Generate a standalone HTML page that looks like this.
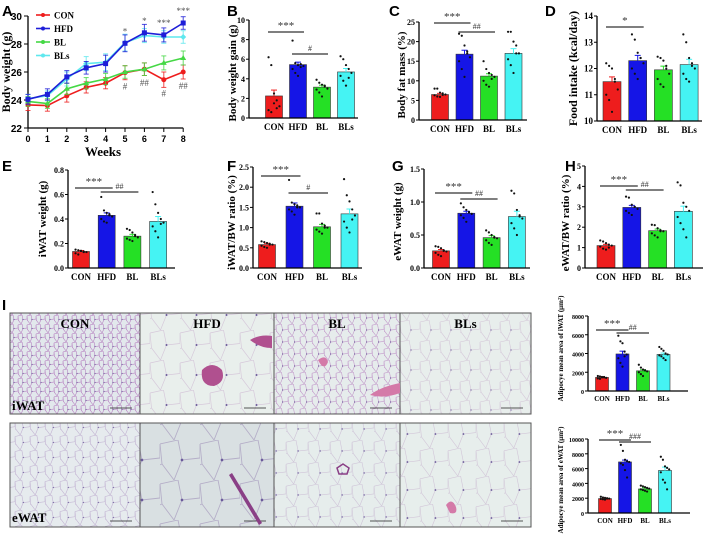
<!DOCTYPE html>
<html><head><meta charset="utf-8"><style>
html,body{margin:0;padding:0;background:#fff;}
svg{display:block;font-family:"Liberation Serif",serif;}
.lt{font-family:"Liberation Sans",sans-serif;font-weight:bold;font-size:15px;}
</style></head><body>
<svg id="fig" width="708" height="536" viewBox="0 0 708 536" xmlns="http://www.w3.org/2000/svg">
<defs id="defs"></defs>
</svg>
<script>
// ---------- Panel A data ----------
const weeks = [0,1,2,3,4,5,6,7,8];
const aTicks = [22,24,26,28,30];
const conW = [23.65,23.6,24.3,24.9,25.2,25.95,26.2,25.45,26.0];
const hfdW = [24.05,24.4,25.65,26.3,26.6,28.05,28.8,28.65,29.5];
const blW  = [23.9,23.75,24.8,25.2,25.5,26.0,26.2,26.65,27.0];
const blsW = [24.1,24.3,25.5,26.6,26.7,28.1,28.6,28.5,28.5];
const conE = [0.4,0.4,0.45,0.4,0.4,0.5,0.45,0.55,0.5];
const hfdE = [0.35,0.4,0.45,0.45,0.6,0.6,0.6,0.5,0.45];
const blE  = [0.35,0.35,0.4,0.4,0.4,0.45,0.45,0.5,0.5];
const blsE = [0.3,0.35,0.5,0.5,0.6,0.6,0.5,0.45,0.45];
// ---------- Bar panel data ----------
const groups = ["CON","HFD","BL","BLs"];
const bMean=[2.25,5.45,3.15,4.7], bErr=[0.6,0.25,0.2,0.35], bTicks=[0,2,4,6,8,10];
const bDots=[[6.2,5.4,2.5,1.8,1.2,0.8,0.6,1.5,1.0],[7.9,5.6,5.4,5.5,5.3,5.0,4.6,4.3,5.2],[3.9,3.6,3.4,3.2,3.0,2.9,2.6,2.2,3.3],[6.3,6.0,5.4,5.0,4.6,4.3,3.8,3.3,4.1]];
const cMean=[6.5,16.8,11.2,17.0], cErr=[0.3,1.0,0.6,1.2], cTicks=[0,5,10,15,20,25];
const cDots=[[8,8,7,6.8,6.5,6.3,6,5.9,6.4],[22,21.5,19,17.5,16,15,13,11,17],[15,13,12,11.5,11,10,9,8.5,10.5],[22.5,22.5,20,19,17,15.5,14,12,17]];
const dMean=[11.5,12.3,11.95,12.15], dErr=[0.18,0.2,0.14,0.2], dTicks=[10,11,12,13,14];
const dDots=[[12.2,12.1,12.0,11.6,11.2,11.0,10.8,10.35,11.5],[13.3,13.1,12.6,12.4,12.2,12.0,11.8,11.6,12.4],[12.45,12.4,12.3,12.0,11.8,11.6,11.4,11.3,12.1],[13.3,13.0,12.4,12.2,12.0,11.8,11.6,11.5,12.1]];
const eMean=[0.135,0.43,0.26,0.38], eErr=[0.008,0.02,0.015,0.04], eTicks=[0,0.2,0.4,0.6,0.8];
const eDots=[[0.15,0.145,0.14,0.135,0.13,0.12,0.11,0.14,0.13],[0.58,0.47,0.45,0.43,0.42,0.4,0.38,0.37,0.44],[0.32,0.31,0.29,0.27,0.25,0.24,0.23,0.22,0.26],[0.62,0.52,0.45,0.4,0.37,0.34,0.3,0.25,0.36]];
const fMean=[0.58,1.53,1.02,1.34], fErr=[0.03,0.08,0.06,0.12], fTicks=[0,0.5,1.0,1.5,2.0,2.5];
const fDots=[[0.66,0.64,0.62,0.6,0.58,0.55,0.52,0.5,0.58],[2.18,1.62,1.58,1.55,1.5,1.45,1.4,1.32,1.5],[1.35,1.35,1.1,1.05,1.0,0.95,0.9,0.85,1.0],[2.2,1.8,1.65,1.45,1.3,1.15,1.0,0.88,1.2]];
const gMean=[0.26,0.83,0.46,0.78], gErr=[0.02,0.03,0.03,0.08], gTicks=[0,0.5,1.0,1.5];
const gDots=[[0.33,0.32,0.3,0.27,0.25,0.23,0.2,0.18,0.26],[0.98,0.92,0.88,0.85,0.82,0.8,0.76,0.7,0.84],[0.57,0.54,0.5,0.47,0.45,0.42,0.38,0.35,0.46],[1.17,1.13,0.88,0.8,0.75,0.68,0.6,0.5,0.78]];
const hMean=[1.1,2.97,1.83,2.78], hErr=[0.06,0.1,0.08,0.25], hTicks=[0,1,2,3,4,5];
const hDots=[[1.35,1.3,1.22,1.15,1.1,1.05,0.95,0.9,1.0],[3.5,3.45,3.1,3.0,2.9,2.8,2.7,2.6,3.0],[2.12,2.1,1.95,1.85,1.8,1.7,1.6,1.5,1.8],[4.2,4.05,3.2,3.0,2.8,2.5,2.2,1.9,1.5]];
const itMean=[1450,3950,2150,3900], itErr=[80,300,120,150], itTicks=[0,2000,4000,6000,8000];
const itDots=[[1600,1550,1500,1450,1400,1350,1300,1450,1500],[5900,5300,5100,4200,3900,3500,3000,2600,3700],[2800,2500,2300,2200,2100,2000,1800,1600,2200],[4700,4500,4300,4000,3900,3800,3700,3500,3300]];
const ieMean=[1950,6900,3250,5750], ieErr=[80,250,150,450], ieTicks=[0,2000,4000,6000,8000,10000];
const ieDots=[[2200,2100,2050,2000,1950,1900,1850,1800,1950],[9200,8400,7200,7000,6900,6700,6500,5800,4800],[3700,3600,3500,3400,3300,3200,3100,3000,2900],[7600,7200,6300,6100,5900,5500,4500,4100,3200]];

const NS="http://www.w3.org/2000/svg";
const svg=document.getElementById('fig');
const defs=document.getElementById('defs');
const COLORS=["#ee1d1d","#1515e6","#25e025","#45f3f3"];
function el(tag,attrs,parent){const e=document.createElementNS(NS,tag);for(const k in attrs)e.setAttribute(k,attrs[k]);(parent||svg).appendChild(e);return e;}
function txt(x,y,s,attrs,parent){const t=el('text',Object.assign({x:x,y:y},attrs||{}),parent);t.textContent=s;return t;}
function fmt(v,ticks){const dec=ticks.some(t=>!Number.isInteger(t));return dec?v.toFixed(1):String(v);}

// panel letters
[["A",2,16],["B",227,16],["C",389,16],["D",545,16],["E",2,171],["F",227,171],["G",392,171],["H",565,171],["I",2,310]].forEach(p=>{
  const t=txt(p[1],p[2],p[0],{class:'lt'});
  
  
});

// ---------- Panel A ----------
(function(){
  const g=el('g',{});
  
  
  const x0=28,xs=19.4,yB=128,yT=16,vmin=22,vmax=30;
  const X=w=>x0+w*xs, Y=v=>yB-(v-vmin)/(vmax-vmin)*(yB-yT);
  el('line',{x1:x0,y1:yT,x2:x0,y2:yB,stroke:'#000','stroke-width':1.3},g);
  el('line',{x1:x0,y1:yB,x2:X(8),y2:yB,stroke:'#000','stroke-width':1.3},g);
  aTicks.forEach(t=>{el('line',{x1:x0-4,y1:Y(t),x2:x0,y2:Y(t),stroke:'#000'},g);
    const l=txt(x0-6,Y(t)+4,String(t),{'text-anchor':'end','font-size':10,'font-weight':'bold','font-family':'Liberation Sans, sans-serif'},g);
    });
  weeks.forEach(w=>{el('line',{x1:X(w),y1:yB,x2:X(w),y2:yB+4,stroke:'#000'},g);
    const l=txt(X(w),yB+14,String(w),{'text-anchor':'middle','font-size':9,'font-weight':'bold','font-family':'Liberation Sans, sans-serif'},g);
    });
  const xt=txt(103,156,"Weeks",{'text-anchor':'middle','font-size':13,'font-weight':'bold'},g);
  
  const yt=txt(0,0,"Body weight (g)",{'text-anchor':'middle','font-size':12,'font-weight':'bold',transform:'translate(10,72) rotate(-90)'},g);
  
  const series=[[conW,conE,COLORS[0],'con','circle'],[blsW,blsE,'#5ee8ee','bls','diamond'],[blW,blE,'#45d845','bl','tri'],[hfdW,hfdE,'#1e1ed8','hfd','square']];
  series.forEach(s=>{
    const sg=el('g',{},g);
    
    s[0].forEach((v,i)=>{
      el('line',{x1:X(i),y1:Y(v+s[1][i]),x2:X(i),y2:Y(v-s[1][i]),stroke:s[2],'stroke-width':1,opacity:0.8},sg);
      el('line',{x1:X(i)-2.5,y1:Y(v+s[1][i]),x2:X(i)+2.5,y2:Y(v+s[1][i]),stroke:s[2],opacity:0.8},sg);
      el('line',{x1:X(i)-2.5,y1:Y(v-s[1][i]),x2:X(i)+2.5,y2:Y(v-s[1][i]),stroke:s[2],opacity:0.8},sg);
    });
    el('polyline',{points:s[0].map((v,i)=>X(i)+','+Y(v)).join(' '),fill:'none',stroke:s[2],'stroke-width':1.6},sg);
    s[0].forEach((v,i)=>{
      let m;
      if(s[4]==='square')m=el('rect',{x:X(i)-2.5,y:Y(v)-2.5,width:5,height:5,fill:s[2]},sg);
      else if(s[4]==='tri')m=el('polygon',{points:`${X(i)},${Y(v)-3} ${X(i)-3},${Y(v)+2} ${X(i)+3},${Y(v)+2}`,fill:s[2]},sg);
      else if(s[4]==='diamond')m=el('polygon',{points:`${X(i)},${Y(v)-3} ${X(i)+3},${Y(v)} ${X(i)},${Y(v)+3} ${X(i)-3},${Y(v)}`,fill:s[2]},sg);
      else m=el('circle',{cx:X(i),cy:Y(v),r:2.5,fill:s[2]},sg);
      
    });
  });
  [["CON",COLORS[0]],["HFD","#1e1ed8"],["BL","#45d845"],["BLs","#5ee8ee"]].forEach((l,i)=>{
    const lg=el('g',{},g);
    const y=15+i*13.5;
    el('line',{x1:36,y1:y,x2:50,y2:y,stroke:l[1],'stroke-width':1.6},lg);
    el('circle',{cx:43,cy:y,r:2,fill:l[1]},lg);
    txt(54,y+3.5,l[0],{'font-size':9,'font-weight':'bold'},lg);
  });
  [["*",5,hfdW,-1],["*",6,hfdW,-1],["***",7,hfdW,-1],["***",8,hfdW,-1],["#",5,conW,1],["##",6,conW,1],["#",7,conW,1],["##",8,conW,1]].forEach(s=>{
    const v=s[2][s[1]];const y=s[3]<0?Y(v)-9:Y(v)+17;
    const t=txt(X(s[1]),y,s[0],{'text-anchor':'middle','font-size':9,fill:'#555'},g);
    
  });
})();

// ---------- bar panels ----------
function barPanel(name,title,means,errs,dots,ticks,cfg,sigs){
  const g=el('g',{});
  
  
  const vmin=ticks[0],vmax=ticks[ticks.length-1];
  const Y=v=>cfg.yB-(v-vmin)/(vmax-vmin)*(cfg.yB-cfg.yT);
  const X=i=>cfg.c0+i*cfg.step;
  means.forEach((m,i)=>{
    const b=el('rect',{x:X(i)-cfg.bw/2,y:Y(m),width:cfg.bw,height:cfg.yB-Y(m),fill:COLORS[i],stroke:'#333','stroke-width':0.6},g);
    
    el('line',{x1:X(i),y1:Y(m),x2:X(i),y2:Y(m+errs[i]),stroke:COLORS[i],'stroke-width':1},g);
    el('line',{x1:X(i)-3,y1:Y(m+errs[i]),x2:X(i)+3,y2:Y(m+errs[i]),stroke:COLORS[i],'stroke-width':1},g);
    dots[i].forEach((d,j)=>{
      const off=((j%5)-2)*cfg.bw*0.16;
      const c=el('circle',{cx:X(i)+off,cy:Y(d),r:1.1,fill:'#111'},g);
      
      
    });
  });
  el('line',{x1:cfg.x0,y1:cfg.yT,x2:cfg.x0,y2:cfg.yB,stroke:'#000','stroke-width':1.3},g);
  el('line',{x1:cfg.x0,y1:cfg.yB,x2:cfg.x1,y2:cfg.yB,stroke:'#000','stroke-width':1.3},g);
  ticks.forEach(t=>{el('line',{x1:cfg.x0-3,y1:Y(t),x2:cfg.x0,y2:Y(t),stroke:'#000'},g);
    const l=txt(cfg.x0-4,Y(t)+3,fmt(t,ticks),{'text-anchor':'end','font-size':cfg.tf||8,'font-weight':'bold'},g);
    });
  groups.forEach((gname,i)=>{
    const l=txt(X(i),cfg.yB+cfg.lo,gname,{'text-anchor':'middle','font-size':cfg.lf||9,'font-weight':'bold'},g);
    });
  const yc=(cfg.yT+cfg.yB)/2+(cfg.tdy||0);
  const yt=txt(0,0,title,{'text-anchor':'middle','font-size':cfg.ttf||11,'font-weight':'bold',transform:`translate(${cfg.tx},${yc}) rotate(-90)`},g);
  
  sigs.forEach(s=>{
    const y=cfg.yT+s[3];
    el('line',{x1:X(s[1])-6,y1:y,x2:X(s[2])+6,y2:y,stroke:'#333','stroke-width':1.2},g);
    const t=txt((X(s[1])+X(s[2]))/2,y-3,s[0],{'text-anchor':'middle','font-size':s[0].indexOf('*')>=0?11:8,fill:'#333'},g);
    
  });
}
barPanel('panel-b-weight-gain','Body weight gain (g)',bMean,bErr,bDots,bTicks,{x0:249,x1:358,c0:274,step:24,bw:17,yT:20,yB:118,lo:12,tx:236,tdy:4},[["***",0,1,12],["#",1,2,34]]);
barPanel('panel-c-fat-mass','Body fat mass (%)',cMean,cErr,cDots,cTicks,{x0:419,x1:527,c0:440,step:24.5,bw:17,yT:22,yB:120,lo:12,tx:405,tdy:4},[["***",0,1,1],["##",1,2,10]]);
barPanel('panel-d-food-intake','Food intake (kcal/day)',dMean,dErr,dDots,dTicks,{x0:597,x1:702,c0:612,step:25.7,bw:18,yT:16,yB:121,lo:12,tx:577,ttf:12,tf:9},[["*",0,1,11]]);
barPanel('panel-e-iwat-weight','iWAT weight (g)',eMean,eErr,eDots,eTicks,{x0:68,x1:175,c0:81,step:25.7,bw:17,yT:170,yB:268,lo:12,tx:46},[["***",0,1,18],["##",1,2,22]]);
barPanel('panel-f-iwat-bw-ratio','iWAT/BW ratio (%)',fMean,fErr,fDots,fTicks,{x0:253,x1:362,c0:267,step:27.5,bw:17,yT:167,yB:268,lo:12,tx:235,tdy:5},[["***",0,1,9],["#",1,2,26]]);
barPanel('panel-g-ewat-weight','eWAT weight (g)',gMean,gErr,gDots,gTicks,{x0:424,x1:530,c0:441,step:25.3,bw:17,yT:169,yB:268,lo:12,tx:401,tdy:3},[["***",0,1,24],["##",1,2,30]]);
barPanel('panel-h-ewat-bw-ratio','eWAT/BW ratio (%)',hMean,hErr,hDots,hTicks,{x0:585,x1:703,c0:606,step:25.8,bw:18,yT:166,yB:268,lo:12,tx:569,tdy:6},[["***",0,1,20],["##",1,2,24]]);
barPanel('panel-i-iwat-adipocyte-area','Adipocye mean area of iWAT (μm²)',itMean,itErr,itDots,itTicks,{x0:588,x1:688,c0:602,step:20.5,bw:13,yT:316,yB:391,lo:10,tx:563,ttf:7,tf:6,lf:7,tdy:-5},[["***",0,1,14],["##",1,2,17]]);
barPanel('panel-i-ewat-adipocyte-area','Adipocye mean area of eWAT (μm²)',ieMean,ieErr,ieDots,ieTicks,{x0:588,x1:690,c0:605,step:20,bw:13,yT:439,yB:513,lo:10,tx:563,ttf:7,tf:6,lf:7,tdy:4},[["***",0,1,1],["###",1,2,3]]);

// ---------- histology (static images approximated with patterns) ----------
const cellSizes=[[9,30,12,20],[15,40,22,28]];
const bgs=[["#e2e8ec","#e9efec","#e6ecec","#e8eeec"],["#e6ebee","#d9e0e2","#e6edec","#e7eeec"]];
const strokes=[["#b883c2","#d6c8da","#c39acb","#d4c6d8"],["#c2b2d2","#b5aec8","#cfc4d8","#d2c6d8"]];
function cellPattern(id,s,stroke,bg){
  const p=el('pattern',{id:id,patternUnits:'userSpaceOnUse',width:s,height:s},defs);
  el('rect',{width:s,height:s,fill:bg},p);
  const d=`M0,${s*0.1} L${s*0.45},0 M${s*0.45},0 L${s*0.55},${s*0.5} L${s},${s*0.45} M${s*0.55},${s*0.5} L${s*0.35},${s} M0,${s*0.1} L${s*0.05},${s*0.6} L${s*0.35},${s} M${s*0.05},${s*0.6} L0,${s*0.62} M${s},${s*0.45} L${s},${s*0.1}`;
  el('path',{d:d,stroke:stroke,'stroke-width':Math.max(0.6,s/45),fill:'none'},p);
  el('circle',{cx:s*0.55,cy:s*0.5,r:Math.max(0.6,s/30),fill:'#6a5a9a'},p);
}
const colX=[10,140,274,400,531];
const rowY=[[313,414],[423,527]];
const labels=["CON","HFD","BL","BLs"];
for(let r=0;r<2;r++){for(let c=0;c<4;c++){
  const id='cp'+r+c;cellPattern(id,cellSizes[r][c],strokes[r][c],bgs[r][c]);
  const img=el('rect',{x:colX[c],y:rowY[r][0],width:colX[c+1]-colX[c],height:rowY[r][1]-rowY[r][0],fill:`url(#${id})`,stroke:'#555','stroke-width':1});
  
  
  el('line',{x1:colX[c+1]-30,y1:rowY[r][1]-6,x2:colX[c+1]-8,y2:rowY[r][1]-6,stroke:'#222','stroke-width':0.8});
}}
el('path',{d:'M202,370 q10,-10 20,0 q4,12 -8,16 q-14,0 -12,-16z',fill:'#b0508f'});
el('path',{d:'M250,340 q10,-6 22,-4 l0,12 q-12,0 -22,-8z',fill:'#b0508f'});
el('path',{d:'M370,395 q10,-8 30,-12 l0,10 q-16,6 -30,2z',fill:'#d47aa8'});
el('path',{d:'M318,360 q8,-6 10,2 q-4,10 -10,-2z',fill:'#d47aa8'});
el('path',{d:'M232,473 l30,50 l-3,2 l-30,-50z',fill:'#8a3f86'});
el('path',{d:'M337,468 l6,-4 l6,4 l-2,6 l-8,0z',fill:'none',stroke:'#8a3f86','stroke-width':1.5});
el('path',{d:'M446,505 q6,-8 10,2 q2,8 -6,6z',fill:'#d47aa8'});
labels.forEach((l,i)=>{const t=txt((colX[i]+colX[i+1])/2,328,l,{'text-anchor':'middle','font-size':13,'font-weight':'bold'});
  });
[["iWAT",410],["eWAT",522]].forEach(l=>{const t=txt(12,l[1],l[0],{'font-size':13,'font-weight':'bold'});
  });
</script>
</body></html>
